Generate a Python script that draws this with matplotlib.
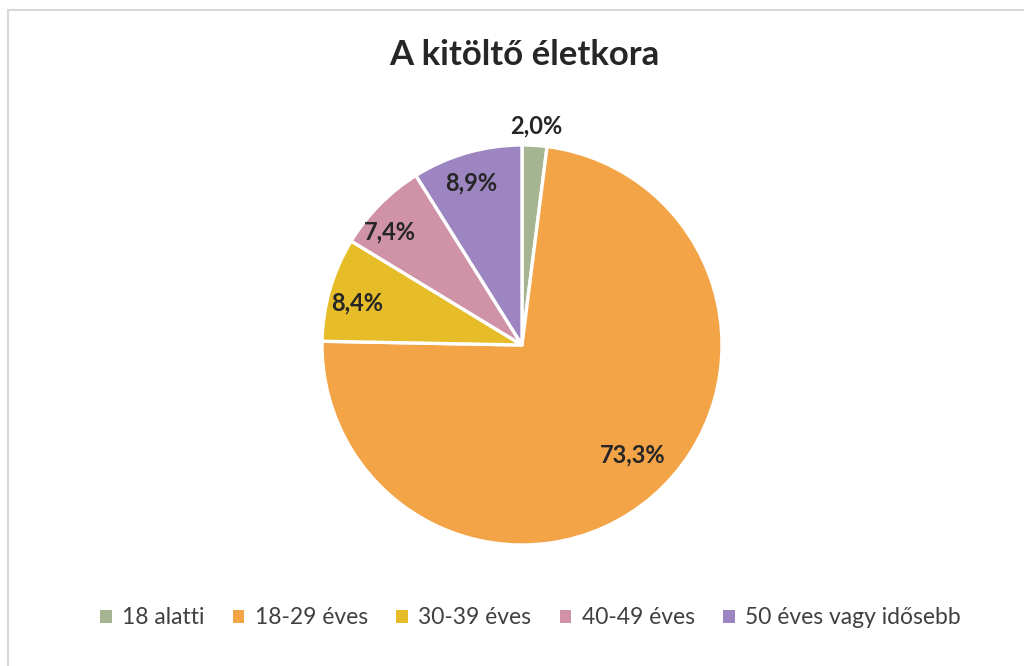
import matplotlib.pyplot as plt
from matplotlib.patches import Patch
import numpy as np

plt.rcParams['font.family'] = ['Lato', 'DejaVu Sans']

# adatok
kategoriak = ['18 alatti', '18-29 éves', '30-39 éves', '40-49 éves', '50 éves vagy idősebb']
ertekek = [2.0, 73.3, 8.4, 7.4, 8.9]
szinek = ['#A5B592', '#F3A447', '#E7BC29', '#D092A7', '#9C85C0']

fig = plt.figure(figsize=(10.24, 6.66), dpi=100)

# keret (bal és felső vonal)
fig.add_artist(plt.Line2D([8/1024, 8/1024], [0, 1 - 10/666], color='#D9D9D9', lw=1.5))
fig.add_artist(plt.Line2D([8/1024, 1], [1 - 10/666, 1 - 10/666], color='#D9D9D9', lw=1.5))

ax = fig.add_axes([(522 - 200) / 1024, (666 - 545) / 666, 400 / 1024, 400 / 666])
wedges, texts, autotexts = ax.pie(
    ertekek, colors=szinek, startangle=90, counterclock=False,
    wedgeprops=dict(edgecolor='white', linewidth=2.4),
    autopct=lambda p: f'{p:.1f}%'.replace('.', ','),
    textprops=dict(fontsize=17, fontweight='bold', color='#262626'))
ax.set_xlim(-1, 1)
ax.set_ylim(-1, 1)
ax.set_aspect('equal')

# címkék helye (Excel "best fit")
tavolsag = [1.1, 0.78, 0.85, 0.87, 0.85]
szog_eltolas = [0, 4.5, 2, 4, 1.5]
for w, t, d, e in zip(wedges, autotexts, tavolsag, szog_eltolas):
    a = np.deg2rad((w.theta1 + w.theta2) / 2 + e)
    t.set_position((d * np.cos(a), d * np.sin(a)))
    t.set_ha('center')
    t.set_va('center')

fig.text(0.512, 1 - 55 / 666, 'A kitöltő életkora', ha='center', va='center',
         fontsize=25, fontweight='bold', color='#262626')

handles = [Patch(facecolor=c, edgecolor='none') for c in szinek]
fig.legend(handles, kategoriak, loc='center', bbox_to_anchor=(0.518, 1 - 618 / 666),
           ncol=5, frameon=False, fontsize=16.5, labelcolor='#404040',
           handlelength=0.5, handleheight=0.5, handletextpad=0.45, columnspacing=1.25)

fig.savefig('out.png', dpi=100)
